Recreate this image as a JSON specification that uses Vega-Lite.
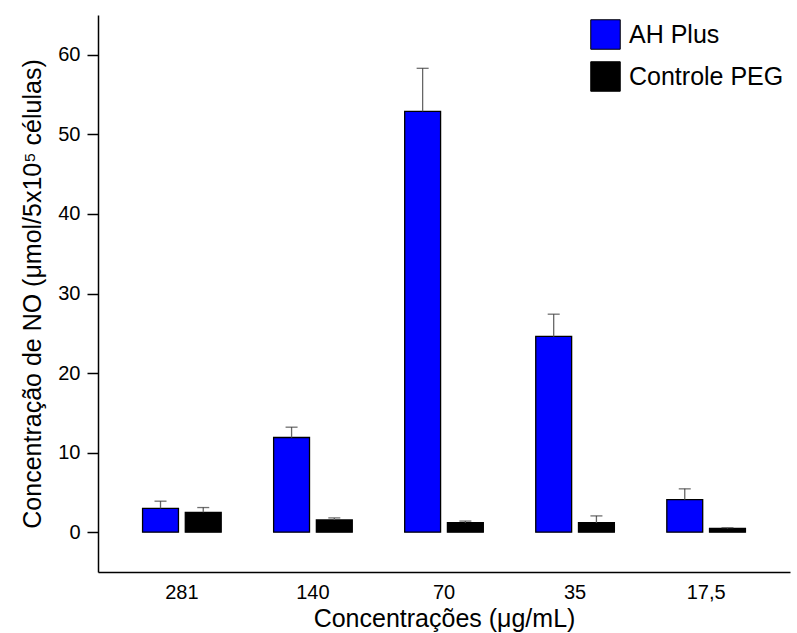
{
  "$schema": "https://vega.github.io/schema/vega-lite/v6.json",
  "width": 692,
  "height": 557,
  "autosize": {"type": "none"},
  "padding": {"left": 98, "top": 15, "right": 7, "bottom": 61},
  "background": "white",
  "config": {
    "view": {"stroke": null},
    "font": "Liberation Sans",
    "axis": {"domainColor": "black", "tickColor": "black", "labelColor": "black", "titleColor": "black", "titleFontWeight": "normal", "grid": false, "labelFont": "Liberation Sans", "titleFont": "Liberation Sans", "labelFontSize": 20}
  },
  "data": {
    "values": [
      {"conc": "281", "grupo": "AH Plus", "valor": 3.0, "sup": 3.9},
      {"conc": "281", "grupo": "Controle PEG", "valor": 2.5, "sup": 3.1},
      {"conc": "140", "grupo": "AH Plus", "valor": 11.9, "sup": 13.2},
      {"conc": "140", "grupo": "Controle PEG", "valor": 1.55, "sup": 1.8},
      {"conc": "70", "grupo": "AH Plus", "valor": 52.9, "sup": 58.3},
      {"conc": "70", "grupo": "Controle PEG", "valor": 1.2, "sup": 1.4},
      {"conc": "35", "grupo": "AH Plus", "valor": 24.6, "sup": 27.4},
      {"conc": "35", "grupo": "Controle PEG", "valor": 1.2, "sup": 2.05},
      {"conc": "17,5", "grupo": "AH Plus", "valor": 4.1, "sup": 5.45},
      {"conc": "17,5", "grupo": "Controle PEG", "valor": 0.47, "sup": 0.55}
    ]
  },
  "encoding": {
    "x": {
      "field": "conc", "type": "nominal", "sort": ["281", "140", "70", "35", "17,5"],
      "scale": {"paddingInner": 0.4, "paddingOuter": 0.34},
      "axis": {"title": "Concentrações (μg/mL)", "labelAngle": 0, "labelFontSize": 20, "titleFontSize": 25, "ticks": false, "labelPadding": 10, "titlePadding": 4, "domainWidth": 1.5}
    },
    "xOffset": {"field": "grupo", "type": "nominal", "scale": {"paddingInner": 0.16}}
  },
  "layer": [
    {
      "mark": {"type": "bar", "stroke": "black", "strokeWidth": 1.3},
      "encoding": {
        "y": {
          "field": "valor", "type": "quantitative",
          "scale": {"domain": [-5, 65], "nice": false, "zero": false},
          "axis": {
            "title": "Concentração de NO (μmol/5x10⁵ células)",
            "values": [0, 10, 20, 30, 40, 50, 60],
            "labelFontSize": 20, "titleFontSize": 25,
            "tickSize": 11,
            "labelPadding": 7, "titlePadding": 12, "domainWidth": 1.5, "tickWidth": 1.5
          }
        },
        "y2": {"datum": 0},
        "color": {
          "field": "grupo", "type": "nominal",
          "scale": {"domain": ["AH Plus", "Controle PEG"], "range": ["#0000FF", "#000000"]},
          "legend": {
            "title": null, "orient": "none", "legendX": 492, "legendY": 4,
            "symbolType": "square", "symbolSize": 870, "symbolStrokeColor": "black", "symbolStrokeWidth": 1,
            "labelFontSize": 25, "labelColor": "black", "rowPadding": 7, "labelOffset": 8, "labelFont": "Liberation Sans"
          }
        }
      }
    },
    {
      "mark": {"type": "rule", "color": "#666666", "strokeWidth": 1.3},
      "encoding": {
        "y": {"field": "valor", "type": "quantitative"},
        "y2": {"field": "sup"}
      }
    },
    {
      "mark": {"type": "tick", "orient": "horizontal", "color": "#333333", "thickness": 1.3, "size": 12},
      "encoding": {
        "y": {"field": "sup", "type": "quantitative"}
      }
    }
  ]
}
